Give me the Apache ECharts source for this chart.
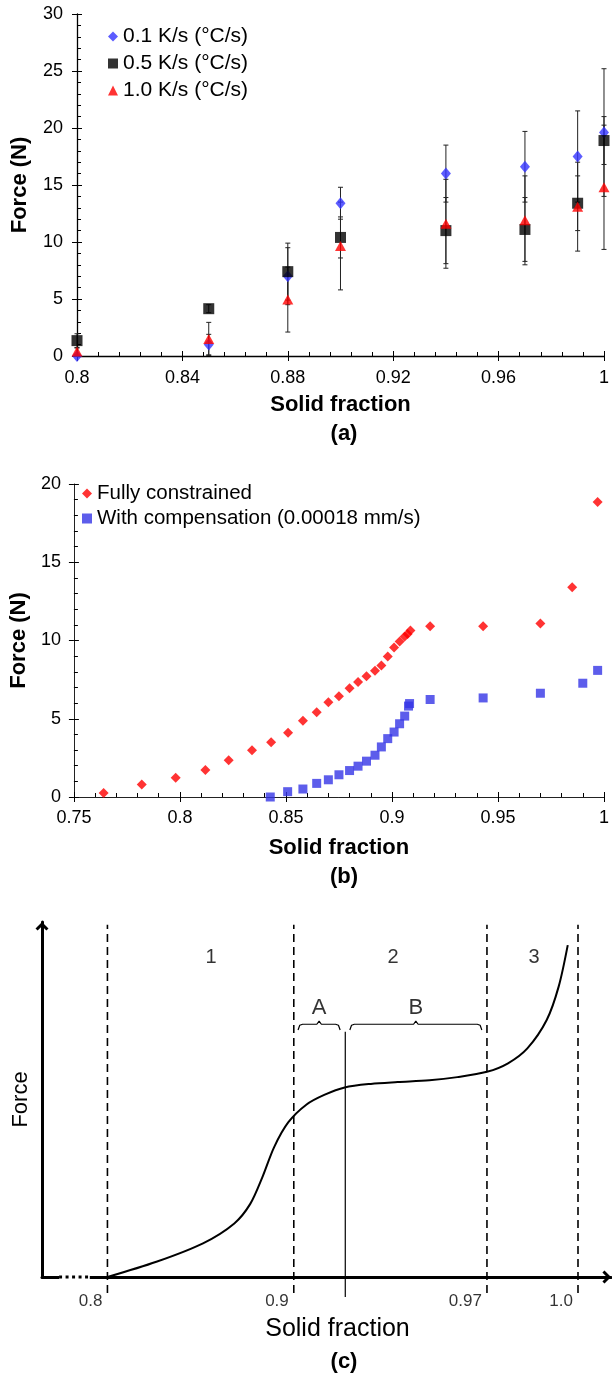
<!DOCTYPE html>
<html><head><meta charset="utf-8">
<script src="https://cdn.jsdelivr.net/npm/echarts@6/dist/echarts.min.js"></script>
<style>html,body{margin:0;padding:0;background:#fff}#c{width:612px;height:1376px}</style>
</head><body><div id="c"></div>
<script>
// ---------- Panel (a): force vs solid fraction at three cooling rates ----------
const sfA = [0.8, 0.85, 0.88, 0.9, 0.94, 0.97, 0.99, 1.0];
const forceA01 = [0.0, 1.0, 7.0, 13.4, 16.0, 16.6, 17.5, 19.6];
const errA01   = [0.0, 0.9, 2.5, 1.4, 2.5, 3.1, 4.0, 5.6];
const forceA05 = [1.35, 4.15, 7.4, 10.4, 11.0, 11.1, 13.4, 18.9];
const errA05   = [0.6, 0.35, 2.5, 1.8, 2.9, 2.8, 2.4, 2.1];
const forceA10 = [0.4, 1.5, 4.95, 9.65, 11.6, 11.9, 13.1, 14.8];
const errA10   = [0.3, 1.45, 2.85, 3.85, 3.9, 3.9, 3.9, 5.45];
const namesA = ['0.1 K/s (°C/s)', '0.5 K/s (°C/s)', '1.0 K/s (°C/s)'];

// ---------- Panel (b): fully constrained vs compensation ----------
const namesB = ['Fully constrained', 'With compensation (0.00018 mm/s)'];
const sfB_fc = [0.764, 0.782, 0.798, 0.812, 0.823, 0.834, 0.843, 0.851, 0.858, 0.8645, 0.870, 0.875, 0.880, 0.884, 0.888, 0.892, 0.895, 0.898, 0.901, 0.9036, 0.906, 0.9074, 0.9087, 0.918, 0.943, 0.970, 0.985, 0.997];
const fB_fc  = [0.25, 0.8, 1.23, 1.72, 2.35, 2.99, 3.5, 4.11, 4.87, 5.42, 6.06, 6.44, 6.95, 7.35, 7.71, 8.07, 8.41, 8.98, 9.56, 9.94, 10.25, 10.42, 10.64, 10.91, 10.91, 11.08, 13.4, 18.85];
const sfB_wc = [0.8426, 0.8508, 0.858, 0.8645, 0.870, 0.875, 0.880, 0.884, 0.888, 0.892, 0.895, 0.898, 0.901, 0.9036, 0.906, 0.9078, 0.9083, 0.918, 0.943, 0.970, 0.990, 0.997];
const fB_wc  = [0.0, 0.34, 0.51, 0.87, 1.1, 1.42, 1.69, 1.97, 2.29, 2.67, 3.2, 3.73, 4.15, 4.68, 5.17, 5.81, 5.97, 6.23, 6.33, 6.63, 7.27, 8.09];

// ---------- Panel (c): schematic (arbitrary units 0-100) ----------
const curveX = [11.5, 20.1, 28.3, 33.8, 36.6, 38.7, 40.8, 43.3, 46.5, 49.6, 53.2, 57.8, 62.5, 68.1, 73.0, 78.2, 81.9, 85.3, 88.7, 90.8, 92.4];
const curveY = [0.0, 4.3, 9.5, 15.1, 20.6, 28.0, 36.6, 43.6, 48.6, 51.3, 53.4, 54.4, 54.9, 55.4, 56.3, 57.8, 60.2, 64.4, 72.4, 81.8, 93.5];
const dashX = [11.5, 44.25, 78.2, 94.2];
const dashRange = [-4.5, 99.2];
const tickTextC = ['0.8', '0.9', '0.97', '1.0'];
const solidX = 53.3;
const solidRange = [-5.6, 69.1];
const regionX = [29.7, 61.7, 86.5];
const regionY = 89.9;
const regionText = ['1', '2', '3'];
const subX = [48.7, 65.7];
const subY = 75.8;
const subText = ['A', 'B'];
const braceA = [[45.0,69.6],[45.3,70.9],[45.8,71.2],[48.3,71.2],[48.7,72.1],[49.1,71.2],[51.6,71.2],[52.1,70.9],[52.4,69.6]];
const braceB = [[54.1,69.6],[54.4,70.9],[54.9,71.2],[65.3,71.2],[65.7,72.1],[66.1,71.2],[76.5,71.2],[77.0,70.9],[77.3,69.6]];
const axisGapC = [[0, 0], [3, 0], [8.4, 0]]; // solid, dotted, solid break of the x axis

const FONT = "'Liberation Sans', Arial, Helvetica, sans-serif";
const TXT = '#000';
const chart = echarts.init(document.getElementById('c'));

function valueAxis(o) {
  return Object.assign({
    type: 'value', splitLine: {show: false},
    axisLine: {show: true, onZero: false, lineStyle: {color: '#000', width: 1.3}},
    axisTick: {show: true, inside: true, length: 5, lineStyle: {color: '#000', width: 1}},
    minorTick: {show: true, splitNumber: 5, length: 4, lineStyle: {color: '#000', width: 1}},
    axisLabel: {fontSize: 18, color: TXT, fontFamily: FONT},
    nameLocation: 'middle',
    nameTextStyle: {fontSize: 22, fontWeight: 'bold', color: TXT, fontFamily: FONT}
  }, o);
}
function crossAxis(o) {
  return Object.assign({
    type: 'value', splitLine: {show: false},
    axisLine: {show: false},
    axisTick: {show: true, inside: false, length: 5, lineStyle: {color: '#000', width: 1}},
    minorTick: {show: false}, axisLabel: {show: false}
  }, o);
}

const arrowPath = 'path://M6.5,0 L13,6.5 L10.9,8.6 L6.5,4.2 L2.1,8.6 L0,6.5 Z';

const xAxes = [
  valueAxis({gridIndex: 0, position: 'bottom', min: 0.8, max: 1.0, interval: 0.04, name: 'Solid fraction', nameGap: 38,
    axisLabel: {fontSize: 18, color: TXT, fontFamily: FONT, margin: 13}}),
  crossAxis({gridIndex: 0, position: 'bottom', min: 0.8, max: 1.0, interval: 0.04}),
  valueAxis({gridIndex: 1, position: 'bottom', min: 0.75, max: 1.0, interval: 0.05, name: 'Solid fraction', nameGap: 40,
    axisLine: {show: true, onZero: false, lineStyle: {color: '#222', width: 1}},
    axisLabel: {fontSize: 18, color: TXT, fontFamily: FONT, margin: 12}}),
  crossAxis({gridIndex: 1, position: 'bottom', min: 0.75, max: 1.0, interval: 0.05}),
  {type: 'value', gridIndex: 2, position: 'bottom', min: 0, max: 100, splitLine: {show: false},
    axisTick: {show: false}, axisLabel: {show: false},
    axisLine: {show: true, onZero: false, symbol: ['none', arrowPath], symbolSize: [13, 8.6], symbolOffset: [0, -4.3],
      lineStyle: {color: '#000', width: 3}},
    name: 'Solid fraction', nameLocation: 'middle', nameGap: 40,
    nameTextStyle: {fontSize: 25, color: TXT, fontFamily: FONT, padding: [0, 0, 0, 22]}}
];
const yAxes = [
  valueAxis({gridIndex: 0, position: 'left', min: 0, max: 30, interval: 5, name: 'Force (N)', nameGap: 46,
    axisLabel: {fontSize: 18, color: TXT, fontFamily: FONT, margin: 14}}),
  crossAxis({gridIndex: 0, position: 'left', min: 0, max: 30, interval: 5}),
  valueAxis({gridIndex: 1, position: 'left', min: 0, max: 20, interval: 5, name: 'Force (N)', nameGap: 40,
    axisLine: {show: true, onZero: false, lineStyle: {color: '#222', width: 1}},
    axisLabel: {fontSize: 18, color: TXT, fontFamily: FONT, margin: 13}}),
  crossAxis({gridIndex: 1, position: 'left', min: 0, max: 20, interval: 5}),
  {type: 'value', gridIndex: 2, position: 'left', min: 0, max: 100, splitLine: {show: false},
    axisTick: {show: false}, axisLabel: {show: false},
    axisLine: {show: true, onZero: false, symbol: ['none', arrowPath], symbolSize: [13, 8.6], symbolOffset: [0, -4.3],
      lineStyle: {color: '#000', width: 3}},
    name: 'Force', nameLocation: 'middle', nameGap: 10,
    nameTextStyle: {fontSize: 22, color: TXT, fontFamily: FONT}}
];

function errSeries(ys, errs) {
  return {
    type: 'custom', xAxisIndex: 0, yAxisIndex: 0, z: 1, silent: true,
    encode: {x: 0, y: [1, 2]},
    data: sfA.map((x, i) => [x, ys[i] - errs[i], ys[i] + errs[i]]),
    renderItem: (params, api) => {
      const x = api.value(0);
      const lo = api.coord([x, api.value(1)]);
      const hi = api.coord([x, api.value(2)]);
      const w = 2.5;
      const style = {stroke: '#222', lineWidth: 1};
      return {type: 'group', children: [
        {type: 'line', shape: {x1: lo[0], y1: lo[1], x2: hi[0], y2: hi[1]}, style: style},
        {type: 'line', shape: {x1: lo[0] - w, y1: lo[1], x2: lo[0] + w, y2: lo[1]}, style: style},
        {type: 'line', shape: {x1: hi[0] - w, y1: hi[1], x2: hi[0] + w, y2: hi[1]}, style: style}
      ]};
    }
  };
}
const zip = (xs, ys) => xs.map((x, i) => [x, ys[i]]);

const series = [
  errSeries(forceA01, errA01), errSeries(forceA05, errA05), errSeries(forceA10, errA10),
  {name: namesA[0], type: 'scatter', xAxisIndex: 0, yAxisIndex: 0, z: 3, symbol: 'diamond', symbolSize: [10, 12],
    itemStyle: {color: '#3333ff'}, data: zip(sfA, forceA01)},
  {name: namesA[1], type: 'scatter', xAxisIndex: 0, yAxisIndex: 0, z: 4, symbol: 'rect', symbolSize: 11,
    itemStyle: {color: '#000'}, data: zip(sfA, forceA05)},
  {name: namesA[2], type: 'scatter', xAxisIndex: 0, yAxisIndex: 0, z: 5, symbol: 'triangle', symbolSize: [11, 10],
    itemStyle: {color: '#ff0000'}, data: zip(sfA, forceA10)},
  {name: namesB[0], type: 'scatter', xAxisIndex: 2, yAxisIndex: 2, symbol: 'diamond', symbolSize: 10,
    itemStyle: {color: '#ff0000'}, data: zip(sfB_fc, fB_fc)},
  {name: namesB[1], type: 'scatter', xAxisIndex: 2, yAxisIndex: 2, symbol: 'rect', symbolSize: 9,
    itemStyle: {color: '#3535e6'}, data: zip(sfB_wc, fB_wc)},
  // panel (c)
  {type: 'line', xAxisIndex: 4, yAxisIndex: 4, data: zip(curveX, curveY), smooth: 0.3, showSymbol: false,
    symbol: 'none', lineStyle: {color: '#000', width: 2}, silent: true, clip: false},
  {type: 'line', xAxisIndex: 4, yAxisIndex: 4, data: [[solidX, solidRange[0]], [solidX, solidRange[1]]],
    symbol: 'none', lineStyle: {color: '#000', width: 1.2}, silent: true, clip: false},
  {type: 'line', xAxisIndex: 4, yAxisIndex: 4, data: braceA, symbol: 'none', lineStyle: {color: '#000', width: 1.2}, silent: true, clip: false},
  {type: 'line', xAxisIndex: 4, yAxisIndex: 4, data: braceB, symbol: 'none', lineStyle: {color: '#000', width: 1.2}, silent: true, clip: false},
  {type: 'line', xAxisIndex: 4, yAxisIndex: 4, z: 3, data: [axisGapC[1], axisGapC[2]], symbol: 'none',
    lineStyle: {color: '#fff', width: 6}, silent: true, clip: false},
  {type: 'line', xAxisIndex: 4, yAxisIndex: 4, z: 4, data: [axisGapC[1], axisGapC[2]], symbol: 'none',
    lineStyle: {color: '#000', width: 3, type: [3, 3.5]}, silent: true, clip: false},
  {type: 'scatter', xAxisIndex: 4, yAxisIndex: 4, symbolSize: 0, silent: true, clip: false,
    data: dashX.map((x, i) => ({value: [x, dashRange[0]], label: {formatter: tickTextC[i]}})),
    label: {show: true, position: 'left', distance: 5, offset: [0, 8], fontSize: 17, color: TXT, fontFamily: FONT}},
  {type: 'scatter', xAxisIndex: 4, yAxisIndex: 4, symbolSize: 0, silent: true, clip: false,
    data: regionX.map((x, i) => ({value: [x, regionY], label: {formatter: regionText[i]}})),
    label: {show: true, position: 'inside', fontSize: 20, color: TXT, fontFamily: FONT}},
  {type: 'scatter', xAxisIndex: 4, yAxisIndex: 4, symbolSize: 0, silent: true, clip: false,
    data: subX.map((x, i) => ({value: [x, subY], label: {formatter: subText[i]}})),
    label: {show: true, position: 'inside', fontSize: 22, color: TXT, fontFamily: FONT}}
];
dashX.forEach(x => series.push({
  type: 'line', xAxisIndex: 4, yAxisIndex: 4, data: [[x, dashRange[0]], [x, dashRange[1]]], symbol: 'none',
  lineStyle: {color: '#000', width: 1.6, type: [8, 5]}, silent: true, clip: false
}));

const titleStyle = {fontSize: 22, fontWeight: 'bold', color: TXT, fontFamily: FONT};
chart.setOption({
  animation: false,
  backgroundColor: '#fff',
  textStyle: {fontFamily: FONT},
  title: [
    {text: '(a)', left: 344, top: 423, textAlign: 'center', padding: 0, textStyle: titleStyle},
    {text: '(b)', left: 344, top: 866, textAlign: 'center', padding: 0, textStyle: titleStyle},
    {text: '(c)', left: 344, top: 1351, textAlign: 'center', padding: 0, textStyle: titleStyle}
  ],
  legend: [
    {data: namesA, orient: 'vertical', left: 108, top: 26, padding: 0, itemWidth: 10, itemHeight: 10, itemGap: 6,
      selectedMode: false, textStyle: {fontSize: 21, color: TXT, fontFamily: FONT}},
    {data: namesB, orient: 'vertical', left: 82, top: 483, padding: 0, itemWidth: 10, itemHeight: 10, itemGap: 4,
      selectedMode: false, textStyle: {fontSize: 20.5, color: TXT, fontFamily: FONT}}
  ],
  grid: [
    {left: 77, top: 14, width: 530, height: 342},
    {left: 70, top: 484, width: 539, height: 313},
    {left: 42, top: 922, width: 569, height: 355}
  ],
  xAxis: xAxes,
  yAxis: yAxes,
  series: series
});
</script></body></html>
